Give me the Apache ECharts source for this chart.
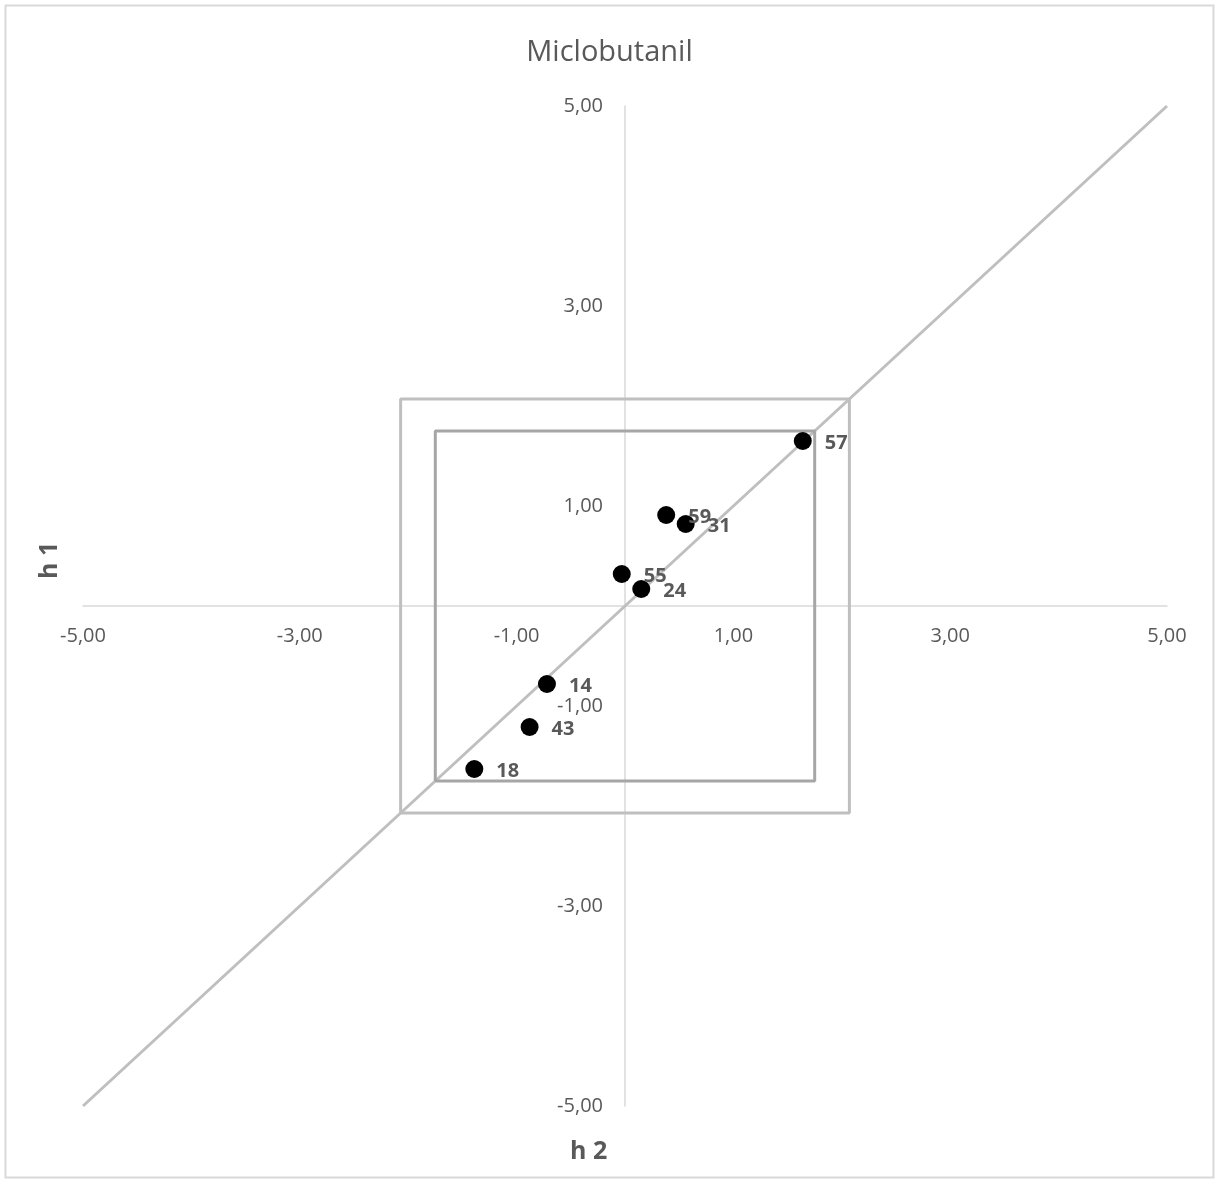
<!DOCTYPE html>
<html>
<head>
<meta charset="utf-8">
<title>Miclobutanil</title>
<script src="https://cdn.jsdelivr.net/npm/echarts@6/dist/echarts.min.js"></script>
<style>
  html, body { margin: 0; padding: 0; background: #ffffff; }
  #chart { width: 1219px; height: 1183px; }
</style>
</head>
<body>
<div id="chart"></div>
<script>
// Laboratory codes and their z-scores for the two samples (h 2 on x, h 1 on y)
const labIds = ['57', '59', '31', '55', '24', '14', '43', '18'];
const h2Scores = [1.64, 0.38, 0.56, -0.03, 0.15, -0.72, -0.88, -1.39];
const h1Scores = [1.65, 0.91, 0.82, 0.32, 0.17, -0.78, -1.21, -1.63];

// Axis range and tick step
const axisMin = -5;
const axisMax = 5;
const tickStep = 2;

// Reference line h1 = h2 and the two acceptance boxes
const diagonalEnds = [-5, 5];
const outerLimit = 2.07;
const innerLimit = 1.75;

const textColor = '#595959';
const fontFamily = '"Open Sans", "Noto Sans", sans-serif';

// Plot area in pixels; the axes are shifted inward so they cross at 0,0
const gridLeft = 83, gridRight = 52, gridTop = 106, gridBottom = 77;
const plotW = 1219 - gridLeft - gridRight;
const plotH = 1183 - gridTop - gridBottom;
const xAxisShift = -plotH * (0 - axisMin) / (axisMax - axisMin);
const yAxisShift = -plotW * (0 - axisMin) / (axisMax - axisMin);

function squarePath(a) {
  return [[-a, -a], [a, -a], [a, a], [-a, a], [-a, -a]];
}

function fmt(v) {
  return v.toFixed(2).replace('.', ',');
}

const chart = echarts.init(document.getElementById('chart'), null, { renderer: 'canvas' });

const axisCommon = {
  type: 'value',
  min: axisMin,
  max: axisMax,
  interval: tickStep,
  axisLine: { onZero: false, lineStyle: { color: '#d9d9d9', width: 1.5 } },
  axisTick: { show: false },
  splitLine: { show: false },
  axisLabel: {
    color: textColor,
    fontSize: 20,
    fontFamily: fontFamily,
    formatter: fmt
  }
};

chart.setOption({
  animation: false,
  backgroundColor: '#ffffff',
  title: {
    text: 'Miclobutanil',
    left: 'center',
    top: 33,
    textStyle: { color: textColor, fontSize: 29, fontWeight: 'normal', fontFamily: fontFamily }
  },
  grid: { left: gridLeft, right: gridRight, top: gridTop, bottom: gridBottom, containLabel: false },
  xAxis: Object.assign({}, axisCommon, {
    position: 'bottom',
    offset: xAxisShift,
    axisLabel: Object.assign({}, axisCommon.axisLabel, { margin: 20 })
  }),
  yAxis: Object.assign({}, axisCommon, {
    position: 'left',
    offset: yAxisShift,
    axisLabel: Object.assign({}, axisCommon.axisLabel, { margin: 22 })
  }),
  graphic: [
    {
      type: 'rect',
      silent: true,
      shape: { x: 5.5, y: 5.5, width: 1208, height: 1172 },
      style: { fill: 'none', stroke: '#d9d9d9', lineWidth: 2 },
      z: -10
    },
    {
      type: 'text',
      silent: true,
      left: 570,
      top: 1139,
      style: { text: 'h 2', fill: textColor, font: 'bold 25px ' + fontFamily }
    },
    {
      type: 'text',
      silent: true,
      rotation: Math.PI / 2,
      x: 37,
      y: 579,
      style: { text: 'h 1', fill: textColor, font: 'bold 25px ' + fontFamily }
    }
  ],
  series: [
    {
      type: 'line',
      name: 'h1 = h2',
      data: diagonalEnds.map(v => [v, v]),
      symbol: 'none',
      silent: true,
      lineStyle: { color: '#bfbfbf', width: 3 },
      z: 1
    },
    {
      type: 'line',
      name: 'outer',
      data: squarePath(outerLimit),
      symbol: 'none',
      silent: true,
      lineStyle: { color: '#bfbfbf', width: 3 },
      z: 1
    },
    {
      type: 'line',
      name: 'inner',
      data: squarePath(innerLimit),
      symbol: 'none',
      silent: true,
      lineStyle: { color: '#a6a6a6', width: 3 },
      z: 1
    },
    {
      type: 'scatter',
      name: 'labs',
      data: labIds.map((id, i) => [h2Scores[i], h1Scores[i], id]),
      symbol: 'circle',
      symbolSize: 18,
      itemStyle: { color: '#000000', opacity: 1 },
      label: {
        show: true,
        position: 'right',
        distance: 13,
        offset: [0, 2],
        formatter: p => p.value[2],
        color: textColor,
        fontSize: 20,
        fontWeight: 'bold',
        fontFamily: fontFamily
      },
      z: 3
    }
  ]
});
</script>
</body>
</html>
